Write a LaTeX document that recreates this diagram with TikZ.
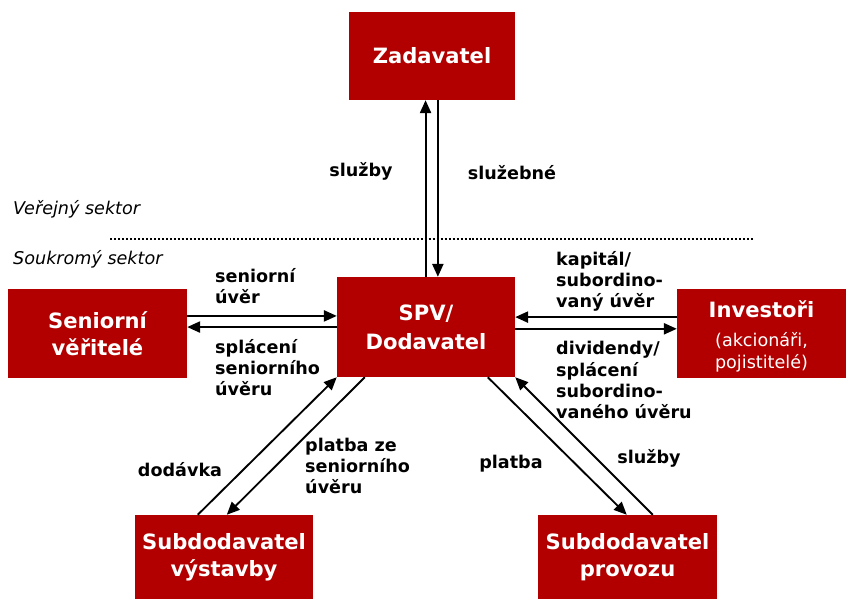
\documentclass[tikz,border=0pt]{standalone}
\usepackage{fontspec}
\setmainfont{DejaVu Sans}
\usepackage{xcolor}
\usetikzlibrary{arrows.meta,calc}
\definecolor{boxred}{RGB}{178,0,0}
\newcommand{\subfont}{\fontsize{15}{18}\selectfont\mdseries}

\begin{document}
\begin{tikzpicture}[x=0.03cm, y=-0.03cm,
    party/.style={rectangle, fill=boxred, text=white, align=center, inner sep=0pt,
        font=\fontsize{18}{23}\selectfont\bfseries},
    flow/.style={align=left, inner sep=0pt, font=\fontsize{15}{18}\selectfont\bfseries},
    sector/.style={anchor=west, inner sep=0pt, font=\fontsize{15}{18}\selectfont\itshape},
    arrow/.style={-{Triangle[length=11pt,width=9.5pt]}, line width=1.6pt}
]
\useasboundingbox (0,0) rectangle (846,599);

% Public side
\node[party, minimum width=4.98cm, minimum height=2.64cm] (zad) at (432,56) {Zadavatel};

% Sector split
\node[sector] (pub) at (13,209) {Veřejný sektor};
\node[sector] (priv) at (13,259) {Soukromý sektor};
\coordinate (splitL) at (110,239);
\coordinate (splitR) at (753,239);
\draw[line width=1.7pt, dash pattern=on 1.7pt off 1.7pt] (splitL) -- (splitR);

% Private side
\node[party, minimum width=5.34cm, minimum height=3cm] (spv) at (426,327) {SPV/\\[2pt]Dodavatel};
\node[party, minimum width=5.37cm, minimum height=2.67cm] (sen) at (97.5,333.5) {Seniorní\\věřitelé};
\node[party, minimum width=5.07cm, minimum height=2.67cm] (inv) at (761.5,333.5)
    {\mbox{}\\[-3pt]Investoři\\[1pt]\subfont (akcionáři,\\[-3.5pt]\subfont pojistitelé)};
\node[party, minimum width=5.34cm, minimum height=2.52cm] (vys) at (224,557) {Subdodavatel\\výstavby};
\node[party, minimum width=5.37cm, minimum height=2.52cm] (pro) at (627.5,557) {Subdodavatel\\provozu};

% Zadavatel <-> SPV
\draw[arrow] ([xshift=-5.5pt]zad.south |- spv.north) -- ([xshift=-5.5pt]zad.south);
\draw[arrow] ([xshift=5pt]zad.south) -- ([xshift=5pt]zad.south |- spv.north);
\node[flow] (sluzby1) at (361,171) {služby};
\node[flow] (sluzebne) at (512,173) {služebné};

% Senior lenders
\draw[arrow] ([yshift=15pt]sen.east) -- ([yshift=15pt]sen.east -| spv.west);
\draw[arrow] ([yshift=5.5pt]sen.east -| spv.west) -- ([yshift=5.5pt]sen.east);
\node[flow, anchor=west] (uver) at (215,286) {seniorní\\úvěr};
\node[flow, anchor=west] (splaceni) at (215,368) {splácení\\seniorního\\úvěru};

% Investors
\draw[arrow] ([yshift=14pt]inv.west) -- ([yshift=14pt]inv.west -| spv.east);
\draw[arrow] ([yshift=4pt]inv.west -| spv.east) -- ([yshift=4pt]inv.west);
\node[flow, anchor=west] (kapital) at (556,281) {kapitál/\\subordino-\\vaný úvěr};
\node[flow, anchor=west] (dividendy) at (556,380) {dividendy/\\splácení\\subordino-\\vaného úvěru};

% Construction subcontractor
\draw[arrow] ($(vys.north west)+(63,0)$) -- (spv.south west);
\draw[arrow] ($(spv.south west)+(28,0)$) -- ($(vys.north west)+(92,0)$);
\node[flow] (dodavka) at (180,470) {dodávka};
\node[flow, anchor=west] (platbaze) at (305,466) {platba ze\\seniorního\\úvěru};

% Operations subcontractor
\draw[arrow] ($(spv.south west)+(151,0)$) -- ($(pro.north west)+(89,0)$);
\draw[arrow] ($(pro.north west)+(115,0)$) -- (spv.south east);
\node[flow] (platba) at (511,464) {platba};
\node[flow] (sluzby2) at (649,458) {služby};

\end{tikzpicture}
\end{document}
